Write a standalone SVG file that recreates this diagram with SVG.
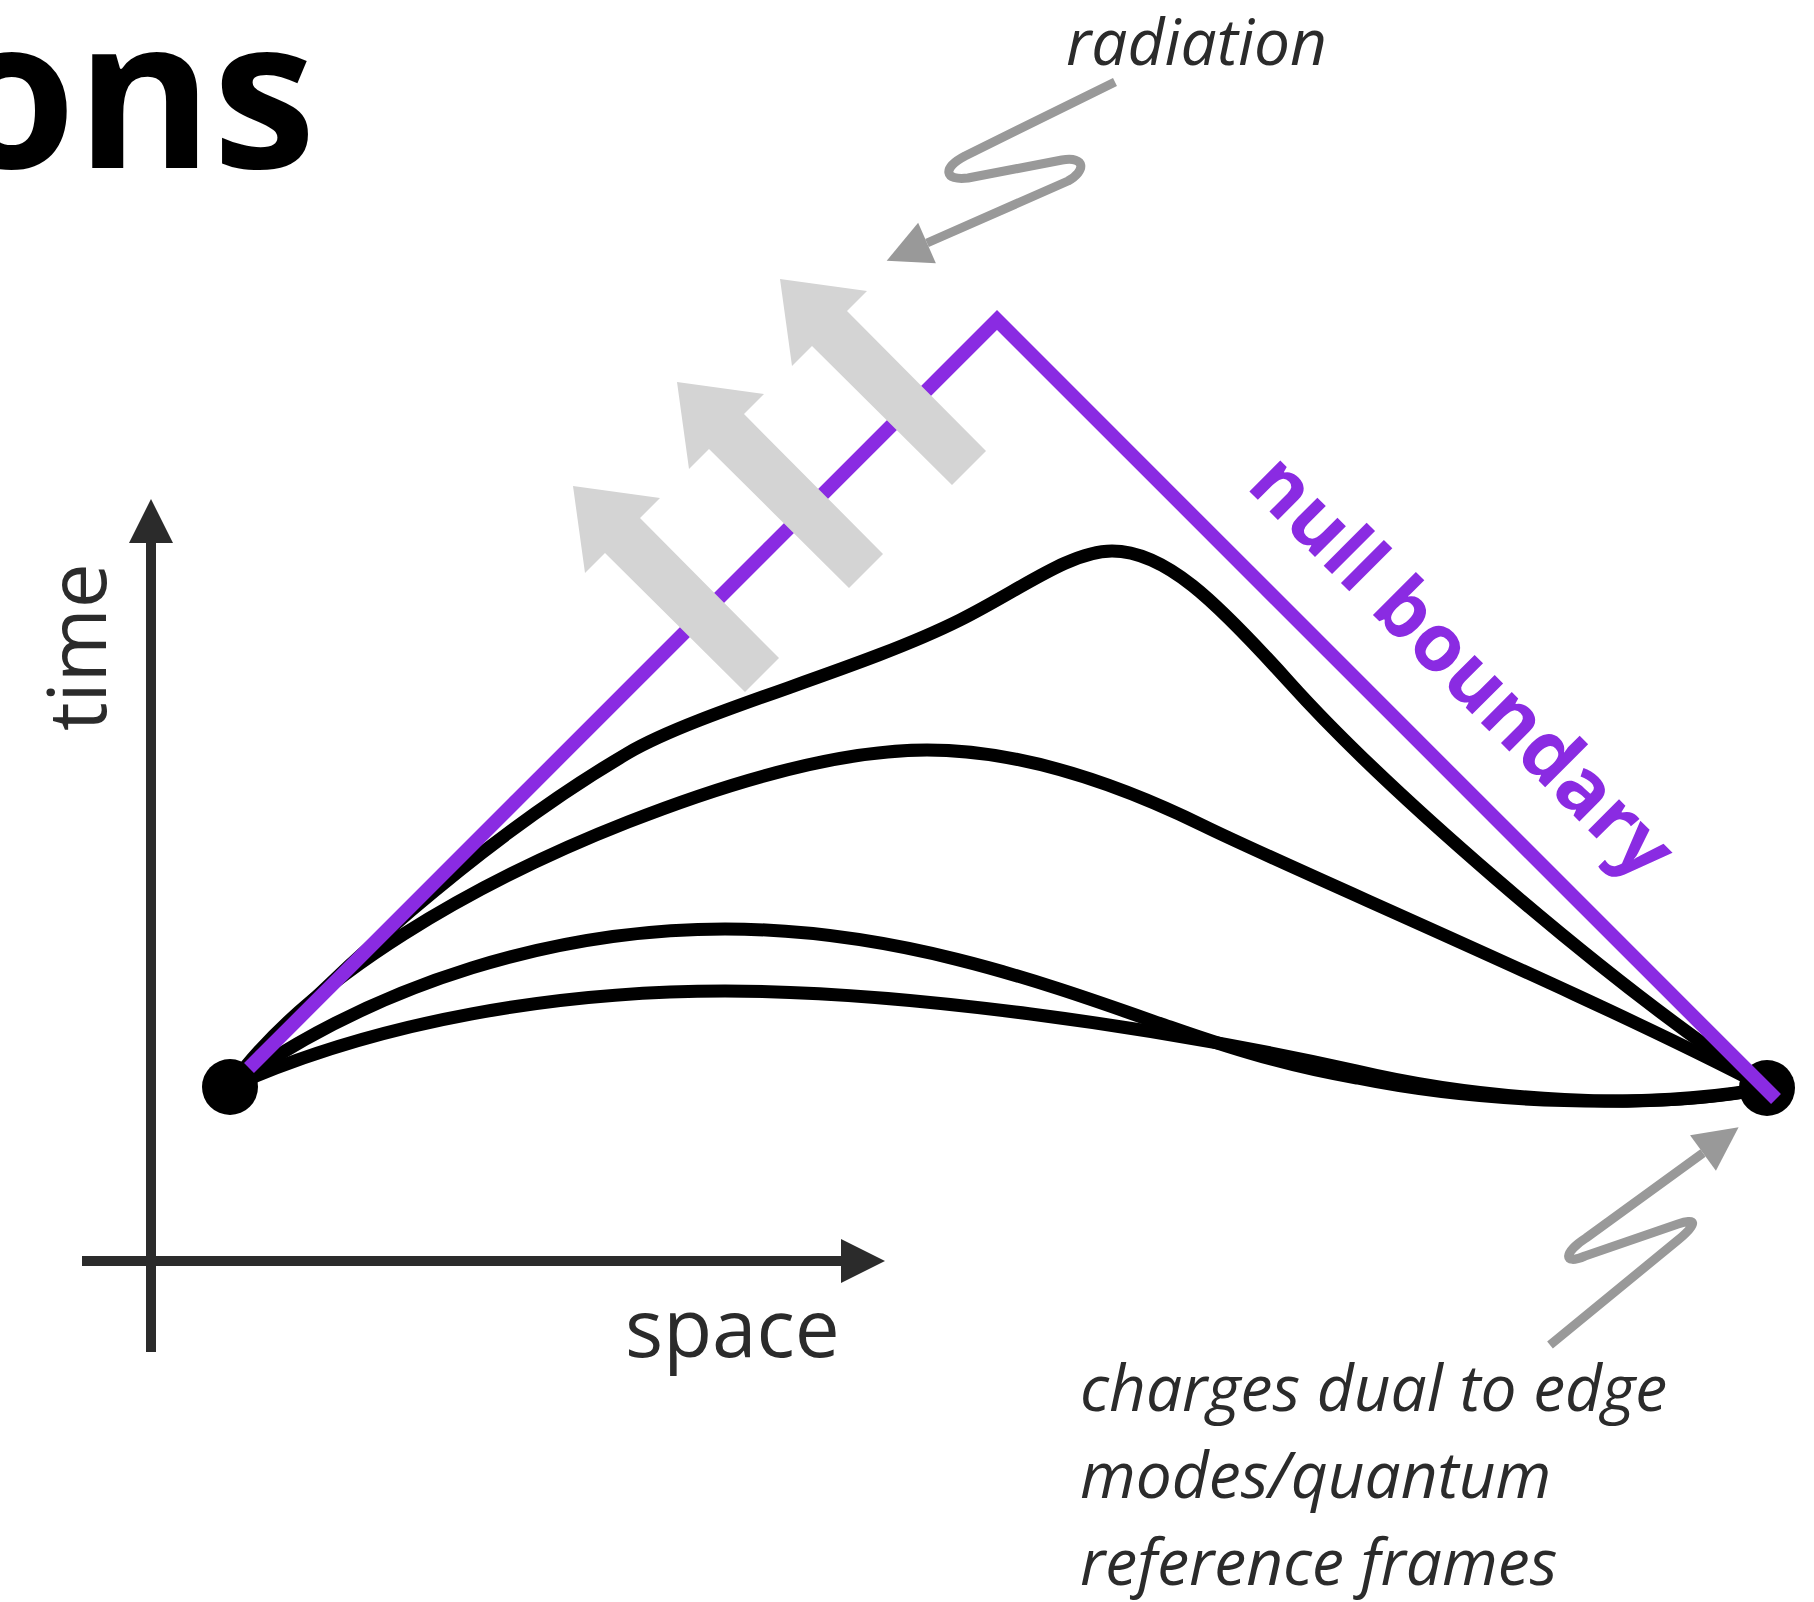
<svg xmlns="http://www.w3.org/2000/svg" width="1814" height="1602" viewBox="0 0 1814 1602">
<style>
.txt{font-family:"Open Sans","Liberation Sans",sans-serif;fill:#2b2b2b}
.it{font-style:italic}
.curve{fill:none;stroke:#000;stroke-width:13;stroke-linecap:round;stroke-linejoin:round}
.axis{fill:none;stroke:#2b2b2b;stroke-width:10}
.squig{fill:none;stroke:#999;stroke-width:9;stroke-linejoin:round}
.rad{fill:#d4d4d4}
</style>
<defs>
<marker id="ah-dark" markerUnits="userSpaceOnUse" markerWidth="46" markerHeight="46" refX="0" refY="23" orient="auto" viewBox="0 0 46 46" overflow="visible">
<path d="M0,1 L44,23 L0,45 z" fill="#2b2b2b"/>
</marker>
<marker id="ah-gray" markerUnits="userSpaceOnUse" markerWidth="46" markerHeight="46" refX="0" refY="23" orient="auto" viewBox="0 0 46 46" overflow="visible">
<path d="M0,1 L44,23 L0,45 z" fill="#999"/>
</marker>
<polygon id="blockarrow" points="0,0 87,12 67,32 206,172 172,206 32,67 12,87"/>
</defs>

<g id="title">
<text x="316" y="168" text-anchor="end" font-family="'Open Sans','Liberation Sans',sans-serif" font-size="208" font-weight="700" fill="#000">ons</text>
</g>

<g id="axes">
<line class="axis" x1="151" y1="1352" x2="151" y2="543" marker-end="url(#ah-dark)"/>
<line class="axis" x1="82" y1="1261" x2="841" y2="1261" marker-end="url(#ah-dark)"/>
<text class="txt" transform="translate(106,731) rotate(-90)" font-size="80">time</text>
<text class="txt" x="625" y="1357" font-size="80">space</text>
</g>

<g id="curves">
<path class="curve" d="M230,1087 C330,975 480,840 628,753 C700,711 860,670 960,620 C1020,590 1070,551 1112,551 C1165,551 1215,600 1290,683 C1380,783 1590,970 1767,1088"/>
<path class="curve" d="M230,1087 C310,975 480,880 628,822 C730,782 840,750 927,750 C1010,750 1100,775 1204,826 C1300,873 1600,1000 1767,1088"/>
<path class="curve" d="M230,1087 C380,980 560,929 725,929 C900,929 1050,985 1170,1027 C1250,1055 1300,1068 1357,1078 C1480,1103 1650,1110 1767,1088"/>
<path class="curve" d="M230,1087 C380,1020 560,991 725,991 C900,991 1150,1025 1357,1071 C1480,1100 1650,1112 1767,1088"/>
</g>

<g id="endpoint-left"><circle cx="230" cy="1087" r="28" fill="#000"/></g>
<g id="endpoint-right"><circle cx="1767" cy="1088" r="28" fill="#000"/></g>

<g id="null-boundary">
<polyline points="249,1068 997,320 1776,1099" fill="none" stroke="#8a2be2" stroke-width="14" stroke-linejoin="miter"/>
<text transform="translate(1245,487) rotate(45)" font-family="'Open Sans','Liberation Sans',sans-serif" font-weight="700" font-size="80" fill="#8a2be2">null boundary</text>
</g>

<g id="radiation-arrows" class="rad">
<use href="#blockarrow" x="573" y="486"/>
<use href="#blockarrow" x="677" y="382"/>
<use href="#blockarrow" x="780" y="279"/>
</g>

<g id="connectors">
<path class="squig" d="M1115,82 L965,156 C942,168 944,181 968,178 L1062,160 C1086,156 1086,171 1068,181 L927,243" marker-end="url(#ah-gray)"/>
<path class="squig" d="M1550,1345 L1678,1240 C1700,1222 1695,1218 1678,1224 L1585,1256 C1562,1266 1564,1252 1586,1238 L1703,1153" marker-end="url(#ah-gray)"/>
</g>

<g id="label-radiation">
<text class="txt it" x="1066" y="65" font-size="64">radiation</text>
</g>

<g id="label-charges">
<text class="txt it" font-size="64">
<tspan x="1080" y="1411">charges dual to edge</tspan>
<tspan x="1080" y="1498">modes/quantum</tspan>
<tspan x="1080" y="1585">reference frames</tspan>
</text>
</g>
</svg>
